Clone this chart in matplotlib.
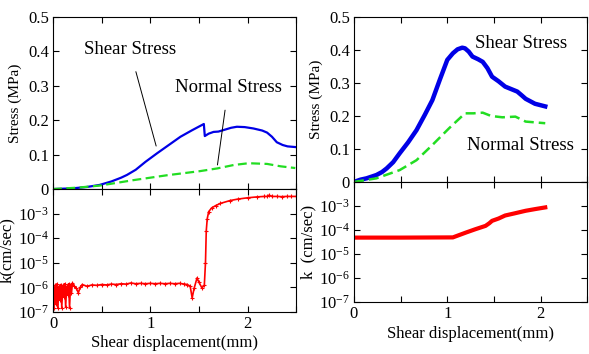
import numpy as np
import matplotlib
matplotlib.use("Agg")
import matplotlib.pyplot as plt
from matplotlib.ticker import MultipleLocator, NullLocator, FixedFormatter, FixedLocator

plt.rcParams["font.family"] = ["Liberation Serif", "DejaVu Serif"]
plt.rcParams["mathtext.fontset"] = "custom"
plt.rcParams["mathtext.rm"] = "Liberation Serif"
plt.rcParams["mathtext.it"] = "Liberation Serif:italic"

# ---- left test: stress ----
left_shear_x = [0.0, 0.2, 0.35, 0.48, 0.6, 0.7, 0.76, 0.85, 0.95, 1.07, 1.2, 1.31, 1.43, 1.55,
                1.56, 1.6, 1.65, 1.7, 1.76, 1.83, 1.89, 1.97, 2.06, 2.15, 2.2, 2.25, 2.30,
                2.36, 2.41, 2.49]
left_shear_y = [0.0, 0.002, 0.006, 0.012, 0.022, 0.033, 0.041, 0.056, 0.079, 0.104, 0.13,
                0.152, 0.171, 0.189, 0.154, 0.161, 0.166, 0.167, 0.172, 0.178, 0.181, 0.18,
                0.176, 0.17, 0.164, 0.152, 0.136, 0.128, 0.124, 0.122]
left_normal_x = [0.0, 0.25, 0.48, 0.83, 1.17, 1.51, 1.69, 1.86, 2.01, 2.2, 2.34, 2.49]
left_normal_y = [0.0, 0.004, 0.01, 0.026, 0.04, 0.052, 0.06, 0.07, 0.075, 0.073, 0.066, 0.061]

# ---- left test: permeability ----
left_k_x = [0.0, 0.01, 0.02, 0.03, 0.04, 0.05, 0.06, 0.07, 0.08, 0.09, 0.10, 0.11, 0.12,
            0.13, 0.14, 0.15, 0.16, 0.17, 0.18, 0.19, 0.20, 0.22, 0.24, 0.26, 0.28, 0.30,
            0.35, 0.40, 0.45, 0.50, 0.55, 0.60, 0.65, 0.70, 0.75, 0.80, 0.85, 0.90, 0.95,
            1.00, 1.05, 1.10, 1.15, 1.20, 1.25, 1.30, 1.35, 1.38, 1.41, 1.43, 1.45, 1.48,
            1.50, 1.53, 1.555, 1.567, 1.575, 1.585, 1.60, 1.63, 1.67, 1.72, 1.82, 1.90,
            2.00, 2.10, 2.17, 2.20, 2.22, 2.25, 2.30, 2.35, 2.40, 2.45, 2.50]
left_k_y = [1.3e-6, 1.4e-7, 1.2e-6, 2.0e-7, 1.4e-6, 1.4e-7, 1.1e-6, 3.0e-7, 1.3e-6, 1.5e-7,
            1.2e-6, 4.0e-7, 1.4e-6, 1.6e-7, 1.1e-6, 5.0e-7, 1.4e-6, 1.5e-7, 1.2e-6, 6.0e-7,
            1.5e-6, 1.1e-6, 9.0e-7, 6.0e-7, 1.0e-6, 1.3e-6, 1.1e-6, 1.25e-6, 1.2e-6, 1.3e-6,
            1.25e-6, 1.35e-6, 1.3e-6, 1.4e-6, 1.35e-6, 1.5e-6, 1.4e-6, 1.45e-6, 1.4e-6,
            1.45e-6, 1.4e-6, 1.45e-6, 1.4e-6, 1.45e-6, 1.4e-6, 1.45e-6, 1.35e-6, 1.3e-6,
            1.1e-6, 3.7e-7, 9.0e-7, 2.4e-6, 1.6e-6, 9.5e-7, 1.2e-6, 1.0e-5, 2.0e-4, 6.2e-4,
            1.2e-3, 1.7e-3, 2.1e-3, 2.6e-3, 3.4e-3, 3.9e-3, 4.4e-3, 4.8e-3, 5.0e-3, 5.0e-3,
            5.6e-3, 5.0e-3, 5.0e-3, 4.9e-3, 5.0e-3, 5.0e-3, 5.0e-3]

# ---- right test: stress ----
right_shear_x = [0.0, 0.07, 0.135, 0.24, 0.3, 0.35, 0.42, 0.49, 0.58, 0.67, 0.76, 0.84, 0.92,
                 1.0, 1.06, 1.11, 1.16, 1.19, 1.23, 1.27, 1.33, 1.38, 1.43, 1.48, 1.55, 1.62,
                 1.75, 1.8, 1.84, 1.94, 2.05]
right_shear_y = [0.0, 0.007, 0.011, 0.021, 0.03, 0.041, 0.06, 0.087, 0.12, 0.157, 0.204, 0.248,
                 0.31, 0.37, 0.39, 0.402, 0.407, 0.405, 0.395, 0.38, 0.372, 0.364, 0.345,
                 0.319, 0.305, 0.289, 0.274, 0.262, 0.252, 0.237, 0.229]
right_normal_x = [0.0, 0.24, 0.49, 0.67, 0.84, 1.02, 1.19, 1.28, 1.38, 1.47, 1.59, 1.73,
                  1.84, 2.05]
right_normal_y = [0.0, 0.011, 0.036, 0.066, 0.112, 0.163, 0.208, 0.208, 0.21, 0.2, 0.196,
                  0.198, 0.183, 0.178]

# ---- right test: permeability ----
right_k_x = [0.0, 0.5, 1.06, 1.2, 1.30, 1.41, 1.45, 1.48, 1.55, 1.62, 1.72, 1.84, 1.95, 2.05]
right_k_y = [4.8e-5, 4.8e-5, 4.9e-5, 7.8e-5, 1.07e-4, 1.48e-4, 1.9e-4, 2.4e-4, 3.0e-4,
             4.0e-4, 4.9e-4, 6.3e-4, 7.5e-4, 8.7e-4]

stress_ticks = [0, 0.1, 0.2, 0.3, 0.4, 0.5]
stress_labels = ["0", "0.1", "0.2", "0.3", "0.4", "0.5"]
k_ticks = [1e-7, 1e-6, 1e-5, 1e-4, 1e-3, 1e-2]
k_labels = [r"$10^{-7}$", r"$10^{-6}$", r"$10^{-5}$", r"$10^{-4}$", r"$10^{-3}$", ""]

BLUE = "#0000e6"
GREEN = "#22dd22"
RED = "#ff0000"


def style_axes(ax, show_x):
    ax.set_xlim(0, 2.5)
    ax.xaxis.set_major_locator(FixedLocator([0, 1, 2]))
    ax.xaxis.set_minor_locator(MultipleLocator(0.5))
    ax.tick_params(which="both", direction="in", top=True, right=True,
                   labelsize=12, length=4, width=0.8, pad=3)
    if not show_x:
        ax.tick_params(labelbottom=False)
    for s in ax.spines.values():
        s.set_linewidth(0.8)


def stress_axes(ax):
    ax.set_ylim(0, 0.5)
    ax.yaxis.set_major_locator(FixedLocator(stress_ticks))
    ax.yaxis.set_major_formatter(FixedFormatter(stress_labels))
    ax.yaxis.set_minor_locator(NullLocator())
    ax.set_ylabel("Stress (MPa)", fontsize=11, labelpad=4)


def k_axes(ax, label, pad):
    ax.set_yscale("log")
    ax.set_ylim(1e-7, 1e-2)
    ax.yaxis.set_major_locator(FixedLocator(k_ticks))
    ax.yaxis.set_major_formatter(FixedFormatter(k_labels))
    ax.yaxis.set_minor_locator(NullLocator())
    ax.set_ylabel(label, fontsize=12, labelpad=2)
    ax.set_xlabel("Shear displacement(mm)", fontsize=12, labelpad=pad)


fig = plt.figure(figsize=(5.89, 3.54), dpi=100)

ax1 = fig.add_axes([0.090, 0.466, 0.413, 0.486])
ax2 = fig.add_axes([0.090, 0.119, 0.413, 0.347])
ax3 = fig.add_axes([0.601, 0.486, 0.396, 0.466])
ax4 = fig.add_axes([0.601, 0.147, 0.396, 0.339])

ax1.plot(left_shear_x, left_shear_y, color=BLUE, lw=1.6)
ax1.plot(left_normal_x, left_normal_y, color=GREEN, lw=1.6, ls=(0, (4, 2)))
ax1.annotate("Shear Stress", xy=(1.06, 0.125), xytext=(0.79, 0.405),
             fontsize=13.5, ha="center", va="center",
             arrowprops=dict(arrowstyle="-", color="black", lw=0.7, shrinkA=8, shrinkB=0))
ax1.annotate("Normal Stress", xy=(1.69, 0.07), xytext=(1.80, 0.294),
             fontsize=13.5, ha="center", va="center",
             arrowprops=dict(arrowstyle="-", color="black", lw=0.7, shrinkA=8, shrinkB=0))
stress_axes(ax1)
style_axes(ax1, False)

ax2.plot(left_k_x, left_k_y, color=RED, lw=1.2, marker="+", ms=3, mew=0.8)
k_axes(ax2, "k(cm/sec)", 2)
style_axes(ax2, True)

ax3.plot(right_shear_x, right_shear_y, color=BLUE, lw=3.2)
ax3.plot(right_normal_x, right_normal_y, color=GREEN, lw=1.8, ls=(0, (4, 2)))
ax3.text(1.79, 0.42, "Shear Stress", fontsize=13.5, ha="center", va="center")
ax3.text(1.78, 0.112, "Normal Stress", fontsize=13.5, ha="center", va="center")
stress_axes(ax3)
style_axes(ax3, False)

ax4.plot(right_k_x, right_k_y, color=RED, lw=3)
k_axes(ax4, "k  (cm/sec)", 3)
style_axes(ax4, True)

fig.savefig("out.png", dpi=100)
